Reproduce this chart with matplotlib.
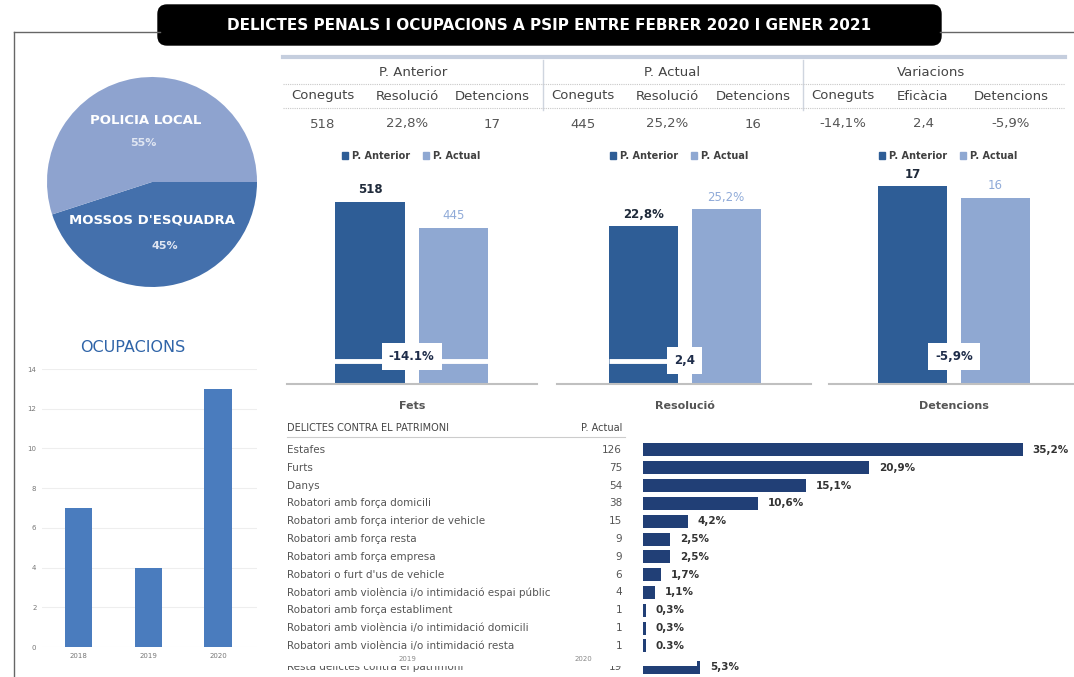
import matplotlib
matplotlib.use("Agg")
import matplotlib.pyplot as plt
import matplotlib.transforms as mtransforms
from matplotlib.patches import FancyBboxPatch, Rectangle, Patch

W, H = 1074, 677

# --- data ---
pie_labels = ["MOSSOS D'ESQUADRA", "POLICIA LOCAL"]
pie_values = [45, 55]
pie_pct = ["45%", "55%"]

ocup_years = ["2018", "2019", "2020"]
ocup_values = [7, 4, 13]

table_groups = ["P. Anterior", "P. Actual", "Variacions"]
table_cols = ["Coneguts", "Resolució", "Detencions",
              "Coneguts", "Resolució", "Detencions",
              "Coneguts", "Eficàcia", "Detencions"]
table_vals = ["518", "22,8%", "17", "445", "25,2%", "16", "-14,1%", "2,4", "-5,9%"]

comp_cats = ["Fets", "Resolució", "Detencions"]
comp_anterior = [518, 22.8, 17]
comp_actual = [445, 25.2, 16]
comp_ant_lbl = ["518", "22,8%", "17"]
comp_act_lbl = ["445", "25,2%", "16"]
comp_var_lbl = ["-14.1%", "2,4", "-5,9%"]

patr_labels = ["Estafes", "Furts", "Danys", "Robatori amb força domicili",
               "Robatori amb força interior de vehicle", "Robatori amb força resta",
               "Robatori amb força empresa", "Robatori o furt d'us de vehicle",
               "Robatori amb violència i/o intimidació espai públic",
               "Robatori amb força establiment",
               "Robatori amb violència i/o intimidació domicili",
               "Robatori amb violència i/o intimidació resta",
               "Resta delictes contra el patrimoni"]
patr_counts = [126, 75, 54, 38, 15, 9, 9, 6, 4, 1, 1, 1, 19]
patr_pct = ["35,2%", "20,9%", "15,1%", "10,6%", "4,2%", "2,5%", "2,5%",
            "1,7%", "1,1%", "0,3%", "0,3%", "0.3%", "5,3%"]

DARK = "#2e5d96"
LIGHT = "#8fa8d2"
NAVY = "#213f76"


def rect(x0, y0, x1, y1):
    # pixel box (top-left origin) -> figure fraction
    return [x0 / W, 1 - y1 / H, (x1 - x0) / W, (y1 - y0) / H]


fig = plt.figure(figsize=(W / 100, H / 100), dpi=100)
fig.patch.set_facecolor("white")

# background axes in pixel units for frame, title and table
bg = fig.add_axes([0, 0, 1, 1])
bg.set_xlim(0, W)
bg.set_ylim(H, 0)
bg.axis("off")

bg.plot([14, 14], [32, H], color="#666666", lw=1)
bg.plot([14, 160], [32, 32], color="#666666", lw=1)
bg.plot([940, W], [32, 32], color="#666666", lw=1)
bg.add_patch(FancyBboxPatch((167, 14), 765, 22, boxstyle="round,pad=9",
                            fc="black", ec="black"))
bg.text(549, 25, "DELICTES PENALS I OCUPACIONS A PSIP ENTRE FEBRER 2020 I GENER 2021",
        color="white", fontsize=11, fontweight="bold",
        ha="center", va="center")

# summary table
bg.plot([283, 1065], [57, 57], color="#c5cede", lw=3)
for xs in [543, 803]:
    bg.plot([xs, xs], [60, 110], color="#cfd5df", lw=1)
for ys in [84, 108]:
    bg.plot([283, 1065], [ys, ys], color="#c8c8c8", lw=0.8, ls=(0, (1, 1)))
for i, g in enumerate(table_groups):
    bg.text(413 + 259 * i, 72, g, fontsize=9.5, color="#444444",
            ha="center", va="center")
col_x = [323, 407, 492, 583, 667, 753, 843, 923, 1011]
for x, c, v in zip(col_x, table_cols, table_vals):
    bg.text(x, 96, c, fontsize=9.5, color="#444444", ha="center", va="center")
    bg.text(x, 124, v, fontsize=9.5, color="#555555", ha="center", va="center")

# pie
ax_pie = fig.add_axes(rect(47, 77, 257, 287))
ax_pie.pie(pie_values, colors=["#4470ac", "#8ea3cf"],
           startangle=-162, counterclock=True, wedgeprops=dict(linewidth=0))
ax_pie.set_xlim(-1, 1)
ax_pie.set_ylim(-1, 1)
pie_lbl_pos = [(152, 220), (146, 120)]
pie_pct_pos = [(165, 246), (143, 143)]
for lab, pct, (lx, ly), (px, py) in zip(pie_labels, pie_pct, pie_lbl_pos, pie_pct_pos):
    ax_pie.text(lx, ly, lab, transform=bg.transData, color="white", fontsize=9.5,
                fontweight="bold", ha="center", va="center", clip_on=False)
    ax_pie.text(px, py, pct, transform=bg.transData, color="#e0e6f2", fontsize=8,
                fontweight="bold", ha="center", va="center", clip_on=False)

# ocupacions
bg.text(133, 348, "OCUPACIONS", color="#2f64a8", fontsize=11.5,
        ha="center", va="center")
ax_oc = fig.add_axes(rect(42, 369, 257, 647))
ax_oc.bar(range(len(ocup_years)), ocup_values, width=0.39, color="#4a7cbe", zorder=3)
ax_oc.set_xlim(-0.53, 2.56)
ax_oc.set_ylim(0, 14)
ax_oc.set_yticks(range(0, 15, 2))
ax_oc.set_xticks(range(len(ocup_years)))
ax_oc.set_xticklabels(ocup_years)
ax_oc.tick_params(labelsize=5, colors="#777777", length=0, pad=4)
ax_oc.grid(axis="y", color="#eeeeee", lw=0.8)
for s in ax_oc.spines.values():
    s.set_visible(False)

# comparison charts
comp_boxes = [(287, 537), (557, 811), (829, W)]
comp_xlim = [(-0.994, 2.0), (-1.036, 2.02), (-1.006, 1.95)]
comp_ylim = [609, 30.9, 18.4]
leg_x = [411, 679, 948]
box_frac = [0.13, 0.108, 0.127]
for k in range(3):
    x0, x1 = comp_boxes[k]
    ax = fig.add_axes(rect(x0, 170, x1, 384))
    ax.bar([0], [comp_anterior[k]], width=0.83, color=DARK)
    ax.bar([1], [comp_actual[k]], width=0.83, color=LIGHT)
    ax.set_xlim(*comp_xlim[k])
    ax.set_ylim(0, comp_ylim[k])
    for s in ["top", "left", "right"]:
        ax.spines[s].set_visible(False)
    ax.spines["bottom"].set_color("#c0c0c0")
    ax.spines["bottom"].set_linewidth(1.5)
    ax.set_yticks([])
    ax.set_xticks([0.5])
    ax.set_xticklabels([comp_cats[k]], fontsize=8, fontweight="bold", color="#555555")
    ax.tick_params(axis="x", length=0, pad=12)
    ax.annotate(comp_ant_lbl[k], (0, comp_anterior[k]), xytext=(0, 4),
                textcoords="offset points", ha="center", va="bottom",
                fontsize=8.5, fontweight="bold", color="#1f2a3a")
    ax.annotate(comp_act_lbl[k], (1, comp_actual[k]), xytext=(0, 4),
                textcoords="offset points", ha="center", va="bottom",
                fontsize=8.5, color="#8faad8")
    if k == 0:
        ax.axhline(comp_anterior[0] * 23 / 182, color="white", lw=3.5)
    if k == 1:
        ax.hlines(comp_anterior[1] * 23 / 158, -0.415, 0.415, color="white", lw=3.5)
    ax.text(0.5, box_frac[k], comp_var_lbl[k], transform=ax.get_xaxis_transform(),
            ha="center", va="center", fontsize=8.5, fontweight="bold", color="#1f2d4a",
            bbox=dict(boxstyle="square,pad=0.6", fc="white", ec="none"))
    ax.legend(handles=[Patch(color=DARK, label="P. Anterior"),
                       Patch(color=LIGHT, label="P. Actual")],
              loc="center", bbox_to_anchor=(leg_x[k], 156), bbox_transform=bg.transData,
              ncol=2, frameon=False, handlelength=0.6, handleheight=0.6,
              handletextpad=0.45, columnspacing=1.3,
              prop=dict(size=7, weight="bold"), labelcolor="#404040")

# delictes contra el patrimoni
ax_p = fig.add_axes(rect(643, 437, W, H))
rows = list(range(len(patr_counts) - 1)) + [len(patr_counts) - 0.8]
ax_p.barh(rows, patr_counts, height=0.73, color=NAVY)
ax_p.set_xlim(0, 142.9)
ax_p.set_ylim(12.75, -0.73)
ax_p.axis("off")
for y, c, p in zip(rows, patr_counts, patr_pct):
    ax_p.annotate(p, (c, y), xytext=(7, 0), textcoords="offset points",
                  ha="left", va="center", fontsize=7.5, fontweight="bold",
                  color="#333333")
lt = mtransforms.blended_transform_factory(bg.transData, ax_p.transData)
for y, lab, c in zip(rows, patr_labels, patr_counts):
    ax_p.text(287, y, lab, transform=lt, ha="left", va="center", fontsize=7.5,
              color="#555555", clip_on=False)
    ax_p.text(622, y, str(c), transform=lt, ha="right", va="center", fontsize=7.5,
              color="#555555", clip_on=False)
bg.text(287, 428, "DELICTES CONTRA EL PATRIMONI", fontsize=7, color="#444444",
        ha="left", va="center")
bg.text(622, 428, "P. Actual", fontsize=7, color="#444444",
        ha="right", va="center")
bg.plot([287, 625], [437, 437], color="#cccccc", lw=0.8)

# overlapping strip hiding the top of the last row
ax_p.add_patch(Rectangle((280, 653), 417, 13, transform=bg.transData,
                         fc="white", ec="none", clip_on=False, zorder=5))
ax_p.text(407, 659, "2019", transform=bg.transData, fontsize=5, color="#888888",
          ha="center", va="center", zorder=6, clip_on=False)
ax_p.text(583, 659, "2020", transform=bg.transData, fontsize=5, color="#888888",
          ha="center", va="center", zorder=6, clip_on=False)

fig.savefig("out.png", dpi=100, facecolor="white")
